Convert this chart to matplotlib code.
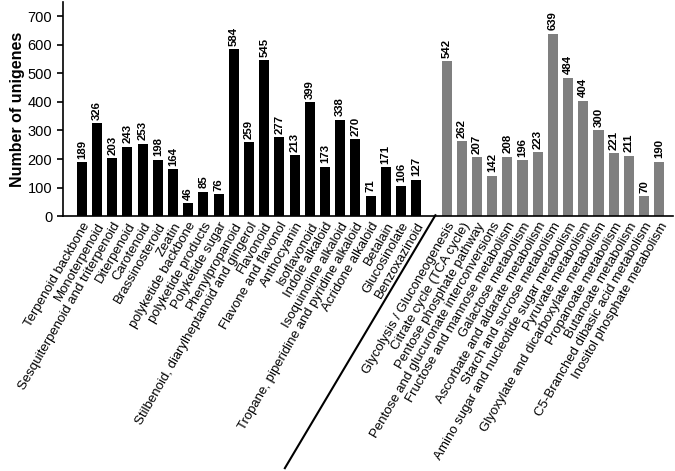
import matplotlib.pyplot as plt
from matplotlib.lines import Line2D

# --------------------
# Data
# --------------------
secondary_labels = [
    "Terpenoid backbone", "Monoterpenoid", "Sesquiterpenoid and triterpenoid",
    "Diterpenoid", "Carotenoid", "Brassinosteroid", "Zeatin",
    "polyketide backbone", "polyketide products", "Polyketide sugar",
    "Phenylpropanoid", "Stilbenoid, diarylheptanoid and gingerol", "Flavonoid",
    "Flavone and flavonol", "Anthocyanin", "Isoflavonoid", "Indole alkaloid",
    "Isoquinoline alkaloid", "Tropane, piperidine and pyridine alkaloid",
    "Acridone alkaloid", "Betalain", "Glucosinolate", "Benzoxazinoid",
]
secondary_values = [189, 326, 203, 243, 253, 198, 164, 46, 85, 76, 584, 259,
                    545, 277, 213, 399, 173, 338, 270, 71, 171, 106, 127]

carb_labels = [
    "Glycolysis / Gluconeogenesis", "Citrate cycle (TCA cycle)",
    "Pentose phosphate pathway", "Pentose and glucuronate interconversions",
    "Fructose and mannose metabolism", "Galactose metabolism",
    "Ascorbate and aldarate metabolism", "Starch and sucrose metabolism",
    "Amino sugar and nucleotide sugar metabolism", "Pyruvate metabolism",
    "Glyoxylate and dicarboxylate metabolism", "Propanoate metabolism",
    "Butanoate metabolism", "C5-Branched dibasic acid metabolism",
    "Inositol phosphate metabolism",
]
carb_values = [542, 262, 207, 142, 208, 196, 223, 639, 484, 404, 300, 221,
               211, 70, 190]

y_ticks = [0, 100, 200, 300, 400, 500, 600, 700]

# --------------------
# Plot
# --------------------
plt.rcParams["font.family"] = ["Liberation Sans", "DejaVu Sans"]

fig = plt.figure(figsize=(6.75, 4.71), dpi=100)
ax = fig.add_axes([0.093, 0.541, 0.904, 0.455])

x_sec = list(range(len(secondary_values)))
gap = len(secondary_values) + 1
x_carb = [gap + i for i in range(len(carb_values))]

bars1 = ax.bar(x_sec, secondary_values, width=0.66, color="black")
bars2 = ax.bar(x_carb, carb_values, width=0.66, color="#7f7f7f")

for bars in (bars1, bars2):
    ax.bar_label(bars, padding=2.5, rotation=90, fontsize=8.2,
                 fontweight="bold")

ax.set_xticks(x_sec + x_carb)
ax.set_xticklabels(secondary_labels + carb_labels, rotation=60, ha="right",
                   rotation_mode="anchor", fontsize=9.5)
ax.tick_params(axis="x", length=0, pad=3)

ax.set_ylim(0, 750)
ax.set_yticks(y_ticks)
ax.tick_params(axis="y", labelsize=10.5, length=4, width=1.2)
ax.set_xlim(-1.25, 38.9)
ax.set_ylabel("Number of unigenes", fontsize=11.5, fontweight="bold",
              labelpad=2)

for side in ("top", "right"):
    ax.spines[side].set_visible(False)
for side in ("left", "bottom"):
    ax.spines[side].set_linewidth(1.2)

# separator between the two groups
fig.add_artist(Line2D([0.645, 0.422], [0.543, 0.006],
                      transform=fig.transFigure, color="black", lw=1.5))

plt.savefig("out.png", dpi=100)
plt.close()
